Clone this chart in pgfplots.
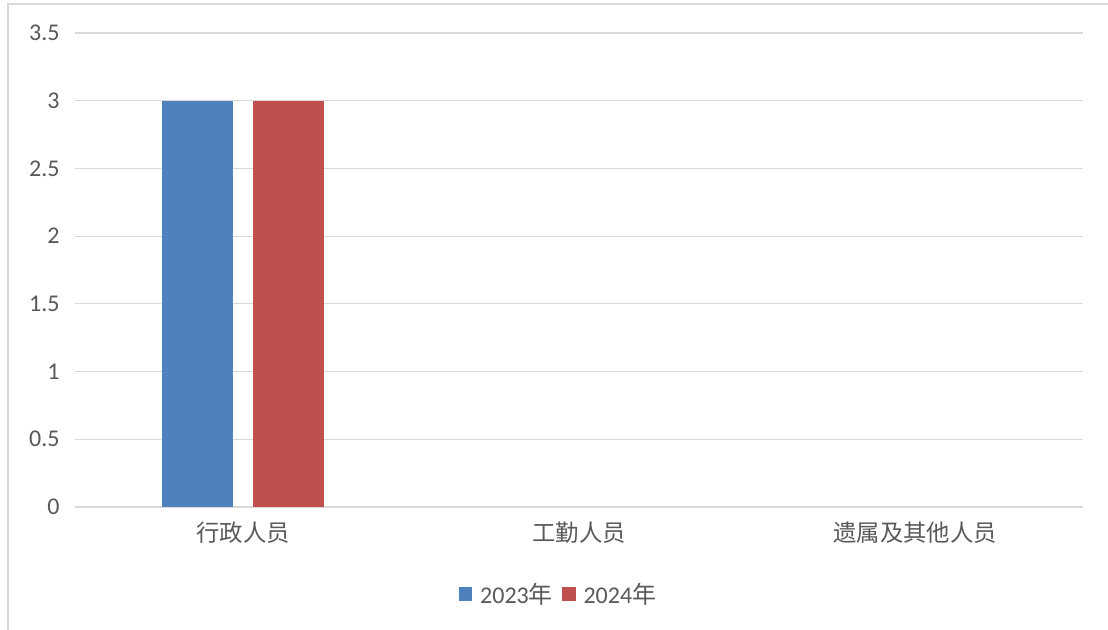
\documentclass[border=0pt]{standalone}
\usepackage{fontspec}
\setmainfont{Carlito}
\newfontfamily\cjk{Noto Sans CJK SC}
\usepackage{pgfplots}
\pgfplotsset{compat=1.18}
\definecolor{txt}{HTML}{595959}
\definecolor{gridc}{HTML}{D9D9D9}
\definecolor{b1}{HTML}{4F81BD}
\definecolor{r1}{HTML}{C0504D}
\begin{document}
\begin{tikzpicture}
\useasboundingbox (0,0) rectangle (831pt,472.5pt);
\fill[white] (0,0) rectangle (831pt,472.5pt);
\draw[gridc, line width=1pt] (6pt,0) -- (6pt,469.5pt) -- (831pt,469.5pt);
\begin{axis}[
  at={(56.25pt,92.25pt)}, anchor=south west,
  scale only axis, width=756pt, height=355.5pt,
  ybar=15pt, bar width=53.25pt,
  xmin=-0.5, xmax=2.5, ymin=0, ymax=3.5,
  xtick={0,1,2}, xticklabels={{\cjk 行政人员},{\cjk 工勤人员},{\cjk 遗属及其他人员}},
  ytick={0,0.5,1,1.5,2,2.5,3,3.5},
  yticklabels={0,0.5,1,1.5,2,2.5,3,3.5},
  axis line style={draw=none},
  axis x line*=bottom, axis y line*=left,
  extra y ticks={0}, extra y tick labels={}, extra y tick style={grid=major, major grid style={gridc, line width=1.2pt}},
  ymajorgrids, major grid style={gridc, line width=0.9pt},
  major tick length=0pt,
  tick label style={font=\fontsize{18pt}{20pt}\selectfont, text=txt},
  xticklabel style={font=\fontsize{17.5pt}{20pt}\selectfont, yshift=-8pt},
  yticklabel style={xshift=-8pt},
  /pgf/number format/assume math mode=true,
  legend style={at={(0.48,-0.1835)}, anchor=center, draw=none, font=\fontsize{18pt}{20pt}\selectfont, text=txt, legend columns=-1,
    /tikz/every even column/.append style={column sep=5pt},
    /tikz/every odd column/.append style={column sep=4pt}},
  legend image code/.code={\fill[#1] (0pt,-5pt) rectangle (10pt,5pt);},
  clip=false,
]
\addplot[fill=b1, draw=none] coordinates {(0,3)};
\addplot[fill=r1, draw=none] coordinates {(0,3)};
\legend{2023{\cjk 年},2024{\cjk 年}}
\end{axis}
\end{tikzpicture}
\end{document}
